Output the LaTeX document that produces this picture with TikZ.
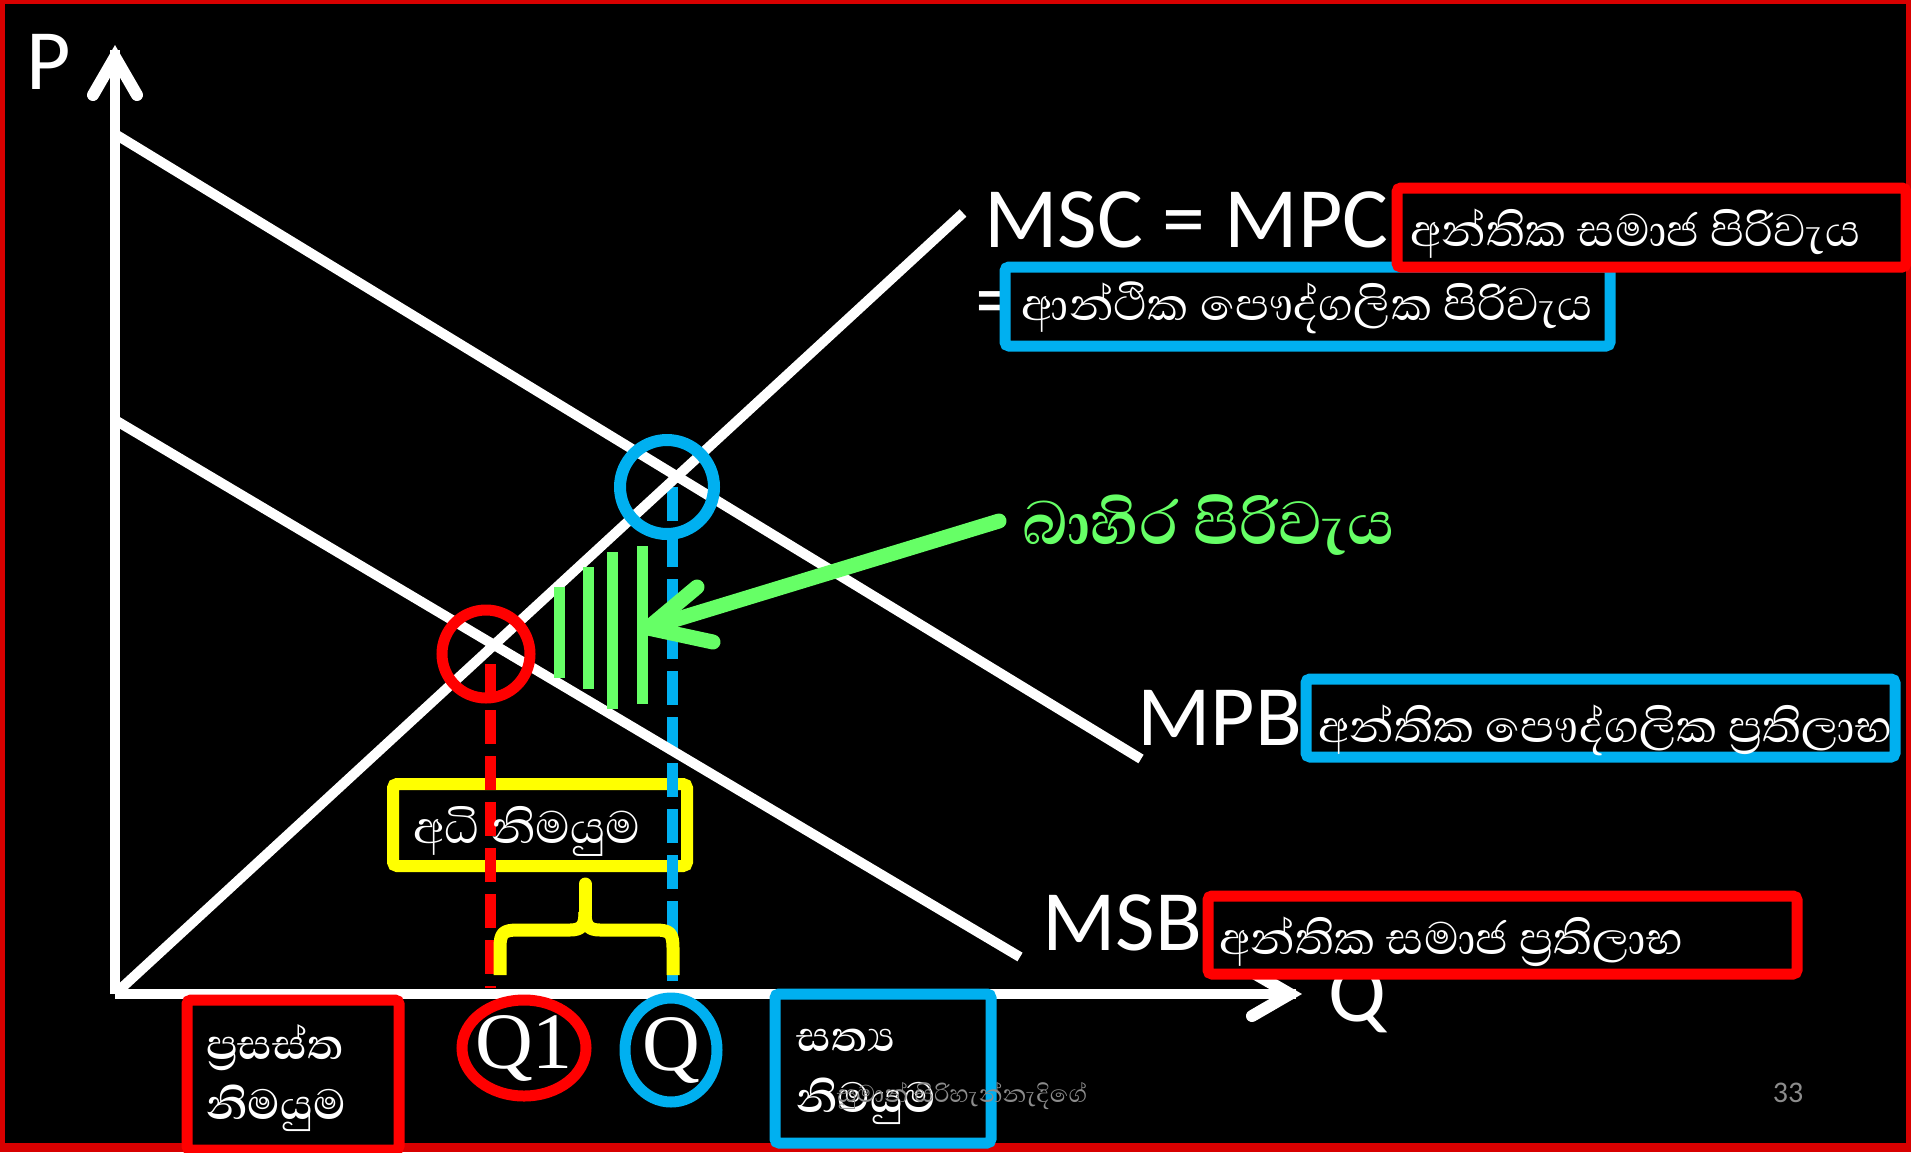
\documentclass[tikz,border=0pt]{standalone}
\usepackage{fontspec}
\setmainfont{Carlito}
\newfontfamily\sinhalafont[Script=Sinhala]{Abhaya Libre}
\newfontfamily\qserif{Liberation Serif}
\definecolor{pred}{HTML}{FF0000}
\definecolor{pblue}{HTML}{00B0F0}
\definecolor{pyel}{HTML}{FFFF00}
\definecolor{pgreen}{HTML}{66FF66}
\definecolor{pgray}{HTML}{8C8C8C}
\definecolor{framered}{HTML}{D80000}
\begin{document}
\begin{tikzpicture}[x=1pt,y=-1pt,
  curve/.style={white, line width=10},
  axisline/.style={white, line width=10},
  axishead/.style={white, line width=12, line cap=round, line join=miter, miter limit=10},
  big/.style={font=\fontsize{86}{90}\selectfont, text=white, inner sep=0},
  qlbl/.style={font=\qserif\fontsize{80}{86}\selectfont, text=white, inner sep=0},
  lbox/.style={draw=#1, line width=11, fill=black, rounded corners=4, inner sep=0},
  stext/.style={font=\sinhalafont\fontsize{58}{66}\selectfont, text=white, inner sep=0},
  btext/.style={font=\sinhalafont\bfseries\fontsize{54}{62}\selectfont, text=white, inner sep=0},
  dashv/.style={line width=11, dash pattern=on 34pt off 12pt},
  hatch/.style={pgreen, line width=11},
  small/.style={font=\fontsize{30}{34}\selectfont, text=pgray, inner sep=0}]
\useasboundingbox (0,0) rectangle (1911,1152);
\fill[framered] (0,0) rectangle (1911,1152);
\fill[black] (5,4) rectangle (1906,1143);

% coordinates
\coordinate (O) at (115,994);
\coordinate (Ptop) at (115,50);
\coordinate (Pa) at (93,95);
\coordinate (Pb) at (115,57);
\coordinate (Pc) at (137,95);
\coordinate (Qend) at (1296,994);
\coordinate (Qa) at (1252,972);
\coordinate (Qb) at (1290,994);
\coordinate (Qc) at (1252,1016);
\coordinate (S1) at (963,213);
\coordinate (D0) at (115,134);
\coordinate (D1) at (1141,759);
\coordinate (M0) at (115,420);
\coordinate (M1) at (1020,957);

% yellow box (unfilled)
\node[draw=pyel, line width=12, rounded corners=4, minimum width=294, minimum height=82, inner sep=0] (ybox) at (540,825) {};

% dashed verticals
\draw[pred, dashv] (490,664) -- (490,988);
\draw[pblue, dashv] (672,487) -- (672,988);

% curves
\draw[curve] (O) -- (S1);
\draw[curve] (D0) -- (D1);
\draw[curve] (M0) -- (M1);

% axes
\draw[axisline] (O) -- (Ptop);
\draw[axishead] (Pa) -- (Pb) -- (Pc);
\draw[axisline] (O) -- (Qend);
\draw[axishead] (Qa) -- (Qb) -- (Qc);
\node[big, anchor=base west] (P) at (26,89) {P};
\node[big, anchor=base west] (Qax) at (1328,1021) {Q};

% green hatch
\draw[hatch] (559,587) -- (559,678);
\draw[hatch] (588,567) -- (588,689);
\draw[hatch] (612,552) -- (612,709);
\draw[hatch] (642,546) -- (642,704);

% circles at intersections
\node[draw=pred, line width=11, circle, minimum size=88, inner sep=0] (c1) at (486,654) {};
\node[draw=pblue, line width=12, circle, minimum size=94, inner sep=0] (c2) at (667,487) {};

% green arrow
\coordinate (Gs) at (999,521);
\coordinate (Gt) at (648,628);
\coordinate (Gw1) at (697,587);
\coordinate (Gw2) at (713,642);
\draw[pgreen, line width=15, line cap=round, line join=round] (Gs) -- (Gt);
\draw[pgreen, line width=15, line cap=round, line join=round] (Gw1) -- (Gt) -- (Gw2);
\node[font=\sinhalafont\bfseries\fontsize{78}{86}\selectfont, text=pgreen, anchor=west, inner sep=0] (ext) at (1022,525) {බාහිර පිරිවැය};

% brace
\draw[pyel, line width=13, line cap=butt, line join=round]
  (500,975) -- (500,948) .. controls (500,933) and (503,930) .. (518,930) -- (570,930)
  .. controls (582,930) and (585,925) .. (585,912);
\draw[pyel, line width=13, line cap=butt, line join=round]
  (673,975) -- (673,948) .. controls (673,933) and (670,930) .. (655,930) -- (600,930)
  .. controls (588,930) and (585,925) .. (585,912);
\draw[pyel, line width=13, line cap=round] (585,915) -- (585,884);

% curve labels
\node[big, anchor=base west] (msc) at (984,247) {MSC = MPC};
\node[big] (eq) at (997,310) {=};
\node[big, anchor=base west] (mpb) at (1137,745) {MPB};
\node[big, anchor=base west] (msb) at (1042,950) {MSB};

% boxes
\node[lbox=pblue, minimum width=605, minimum height=79] (b2) at (1307.5,306.5) {};
\node[stext, anchor=west] (t2) at (1021,308) {ආන්ථික පෞද්ගලික පිරිවැය};
\node[lbox=pred, minimum width=509, minimum height=79] (b1) at (1651.5,227.5) {};
\node[stext, anchor=west] (t1) at (1410,234) {අන්තික සමාජ පිරිවැය};
\node[lbox=pblue, minimum width=589, minimum height=78] (b3) at (1600.5,718) {};
\node[stext, anchor=west] (t3) at (1318,730) {අන්තික පෞද්ගලික ප්^^^^200dරතිලාභ};
\node[lbox=pred, minimum width=589, minimum height=78] (b4) at (1502.5,935) {};
\node[stext, anchor=west] (t4) at (1219,942) {අන්තික සමාජ ප්^^^^200dරතිලාභ};
\node[lbox=pred, minimum width=212, minimum height=150] (b5) at (293,1075) {};
\node[btext, anchor=west] (t5a) at (206,1048) {ප්^^^^200dරසස්ත};
\node[btext, anchor=west] (t5b) at (206,1108) {නිමයුම};
\node[lbox=pblue, minimum width=216, minimum height=149] (b6) at (883,1068.5) {};
\node[btext, anchor=west] (t6a) at (796,1040) {සත්^^^^200dය};
\node[btext, anchor=west] (t6b) at (796,1101) {නිමයුම};

% yellow box text
\node[stext, anchor=west] (ty) at (413,831) {අධි නිමයුම};

% Q1 and Q
\node[qlbl] (q1) at (524,1048) {Q1};
\draw[pred, line width=11] (q1.center) ellipse [x radius=62, y radius=48];
\node[qlbl] (q) at (671,1050) {Q};
\draw[pblue, line width=11] (q.center) ellipse [x radius=46, y radius=52];

% footer
\node[small, font=\sinhalafont\fontsize{31}{34}\selectfont] (foot) at (962,1096) {සුමාන් සිරිහැන්නැදිගේ};
\node[small] (pg) at (1788,1093) {33};
\end{tikzpicture}
\end{document}
